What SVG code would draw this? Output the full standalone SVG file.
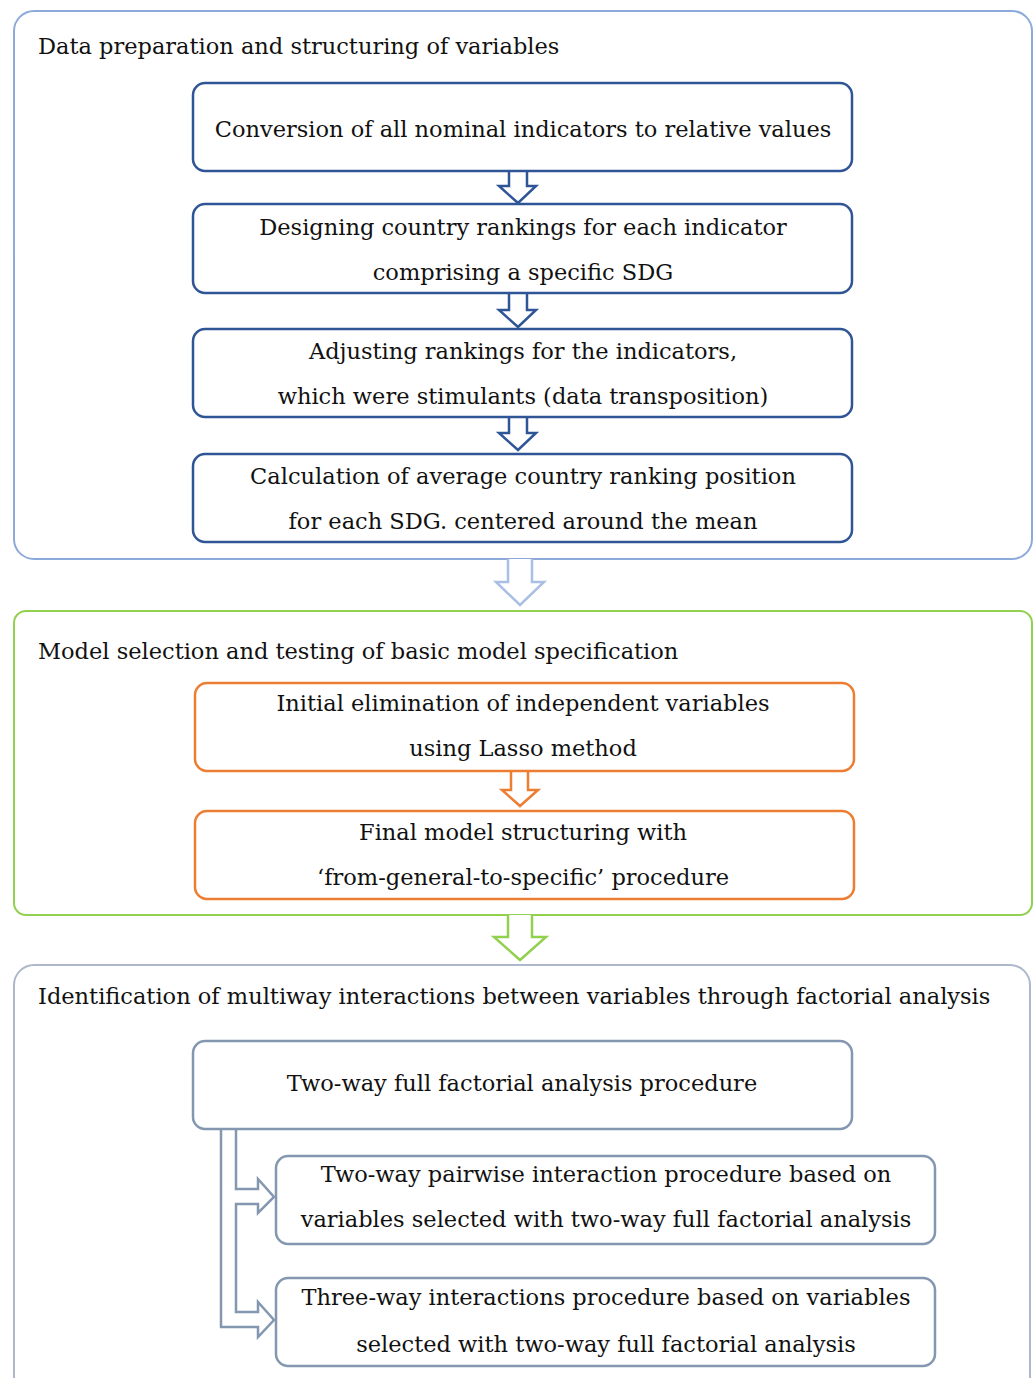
<svg xmlns="http://www.w3.org/2000/svg" width="1035" height="1378" viewBox="0 0 1035 1378">
<style>
text{font-family:"DejaVu Serif","Liberation Serif",serif;font-size:22.5px;fill:#111}
.c{text-anchor:middle}
.outer{fill:none;stroke-width:2}
.inner{fill:#fff;stroke-width:2.5}
.blue{stroke:#2F5597}
.org{stroke:#ED7D31}
.gray{stroke:#8497B0}
.arr{fill:#fff;stroke-width:2.5;stroke-linejoin:miter}
</style>
<rect width="1035" height="1378" fill="#fff"/>
<g id="section1">
<rect class="outer" x="14" y="11" width="1018" height="548" rx="20" stroke="#8EAADB"/>
<text x="38" y="54">Data preparation and structuring of variables</text>
</g>
<g id="section2">
<rect class="outer" x="14" y="611" width="1018" height="304" rx="12" stroke="#92D050"/>
<text x="38" y="659">Model selection and testing of basic model specification</text>
</g>
<g id="section3">
<rect class="outer" x="14" y="965" width="1016" height="440" rx="20" stroke="#ADB9CA"/>
<text x="38" y="1004">Identification of multiway interactions between variables through factorial analysis</text>
</g>
<g id="connectors">
<path class="arr blue" d="M509,171 V186 H499 L518,203 L536,186 H527 V171"/>
<path class="arr blue" d="M509,293 V310 H499 L518,327 L536,310 H527 V293"/>
<path class="arr blue" d="M509,417 V433 H499 L518,450 L536,433 H527 V417"/>
<path class="arr" stroke="#A9BFE3" d="M508,559 V582 H496 L520,605 L544,582 H532 V559"/>
<path class="arr org" d="M511,771 V790 H502 L520,806 L538,790 H528 V771"/>
<path class="arr" stroke="#92D050" d="M508,915 V937 H494 L520,960 L546,937 H532 V915"/>
<path class="arr gray" d="M221,1130 V1327 H258 V1337 L274,1320 L258,1302 V1312 H236 V1204 H258 V1213 L274,1197 L258,1179 V1189 H236 V1130"/>
</g>
<g id="n1">
<rect class="inner blue" x="193" y="83" width="659" height="88" rx="12"/>
<text class="c" x="523" y="137">Conversion of all nominal indicators to relative values</text>
</g>
<g id="n2">
<rect class="inner blue" x="193" y="204" width="659" height="89" rx="12"/>
<text class="c" x="523" y="235">Designing country rankings for each indicator</text>
<text class="c" x="523" y="280">comprising a specific SDG</text>
</g>
<g id="n3">
<rect class="inner blue" x="193" y="329" width="659" height="88" rx="12"/>
<text class="c" x="523" y="359">Adjusting rankings for the indicators,</text>
<text class="c" x="523" y="404">which were stimulants (data transposition)</text>
</g>
<g id="n4">
<rect class="inner blue" x="193" y="454" width="659" height="88" rx="12"/>
<text class="c" x="523" y="484">Calculation of average country ranking position</text>
<text class="c" x="523" y="529">for each SDG. centered around the mean</text>
</g>
<g id="n5">
<rect class="inner org" x="195" y="683" width="659" height="88" rx="12"/>
<text class="c" x="523" y="711">Initial elimination of independent variables</text>
<text class="c" x="523" y="756">using Lasso method</text>
</g>
<g id="n6">
<rect class="inner org" x="195" y="811" width="659" height="88" rx="12"/>
<text class="c" x="523" y="840">Final model structuring with</text>
<text class="c" x="523" y="885">‘from-general-to-specific’ procedure</text>
</g>
<g id="n7">
<rect class="inner gray" x="193" y="1041" width="659" height="88" rx="12"/>
<text class="c" x="522" y="1091">Two-way full factorial analysis procedure</text>
</g>
<g id="n8">
<rect class="inner gray" x="276" y="1156" width="659" height="88" rx="12"/>
<text class="c" x="606" y="1182">Two-way pairwise interaction procedure based on</text>
<text class="c" x="606" y="1227">variables selected with two-way full factorial analysis</text>
</g>
<g id="n9">
<rect class="inner gray" x="276" y="1278" width="659" height="88" rx="12"/>
<text class="c" x="606" y="1305">Three-way interactions procedure based on variables</text>
<text class="c" x="606" y="1352">selected with two-way full factorial analysis</text>
</g>
</svg>
